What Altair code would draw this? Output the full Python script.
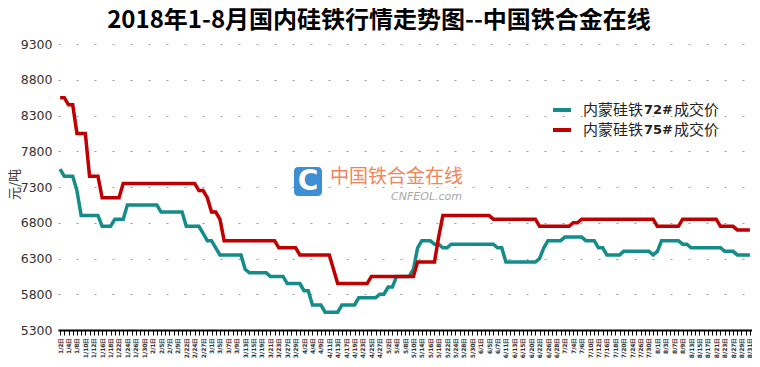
import json
import altair as alt
import pandas as pd

# Trading days, Jan-Aug 2018 (category axis)
dates = [
    "1/2", "1/3", "1/4", "1/5", "1/8", "1/9", "1/10", "1/11", "1/12", "1/15", "1/16",
    "1/17", "1/18", "1/19", "1/22", "1/23", "1/24", "1/25", "1/26", "1/29", "1/30", "1/31",
    "2/1", "2/2", "2/5", "2/6", "2/7", "2/8", "2/9", "2/12", "2/22", "2/23", "2/24",
    "2/26", "2/27", "2/28",
    "3/1", "3/2", "3/5", "3/6", "3/7", "3/8", "3/9", "3/12", "3/13", "3/14", "3/15",
    "3/16", "3/19", "3/20", "3/21", "3/22", "3/23", "3/26", "3/27", "3/28", "3/29", "3/30",
    "4/2", "4/3", "4/4", "4/8", "4/9", "4/10", "4/11", "4/12", "4/13", "4/16", "4/17",
    "4/18", "4/19", "4/20", "4/23", "4/24", "4/25", "4/26", "4/27", "4/28",
    "5/2", "5/3", "5/4", "5/7", "5/8", "5/9", "5/10", "5/11", "5/14", "5/15", "5/16",
    "5/17", "5/18", "5/21", "5/22", "5/23", "5/24", "5/25", "5/28", "5/29", "5/30", "5/31",
    "6/1", "6/4", "6/5", "6/6", "6/7", "6/8", "6/11", "6/12", "6/13", "6/14", "6/15",
    "6/19", "6/20", "6/21", "6/22", "6/25", "6/26", "6/27", "6/28", "6/29",
    "7/2", "7/3", "7/4", "7/5", "7/6", "7/9", "7/10", "7/11", "7/12", "7/13", "7/16",
    "7/17", "7/18", "7/19", "7/20", "7/23", "7/24", "7/25", "7/26", "7/27", "7/30", "7/31",
    "8/1", "8/2", "8/3", "8/6", "8/7", "8/8", "8/9", "8/10", "8/13", "8/14", "8/15",
    "8/16", "8/17", "8/20", "8/21", "8/22", "8/23", "8/24", "8/27", "8/28", "8/29", "8/30", "8/31",
]

# 内蒙硅铁72# (teal)
fesi72 = [
    7550, 7450, 7450, 7450, 7250, 6900, 6900, 6900, 6900, 6900, 6750,
    6750, 6750, 6850, 6850, 6850, 7050, 7050, 7050, 7050, 7050, 7050,
    7050, 7050, 6950, 6950, 6950, 6950, 6950, 6950, 6750, 6750, 6750,
    6750, 6650, 6550,
    6550, 6450, 6350, 6350, 6350, 6350, 6350, 6350, 6150, 6100, 6100,
    6100, 6100, 6100, 6050, 6050, 6050, 6050, 5950, 5950, 5950, 5950,
    5850, 5850, 5650, 5650, 5650, 5550, 5550, 5550, 5550, 5650, 5650,
    5650, 5650, 5750, 5750, 5750, 5750, 5750, 5800, 5800,
    5900, 5900, 6050, 6050, 6050, 6050, 6150, 6450, 6550, 6550, 6550,
    6500, 6500, 6450, 6450, 6500, 6500, 6500, 6500, 6500, 6500, 6500,
    6500, 6500, 6500, 6500, 6450, 6450, 6250, 6250, 6250, 6250, 6250,
    6250, 6250, 6250, 6300, 6450, 6550, 6550, 6550, 6550,
    6600, 6600, 6600, 6600, 6600, 6550, 6550, 6550, 6450, 6450, 6350,
    6350, 6350, 6350, 6400, 6400, 6400, 6400, 6400, 6400, 6400, 6350,
    6400, 6550, 6550, 6550, 6550, 6550, 6500, 6500, 6450, 6450, 6450,
    6450, 6450, 6450, 6450, 6450, 6400, 6400, 6400, 6350, 6350, 6350, 6350,
]

# 内蒙硅铁75# (red)
fesi75 = [
    8550, 8550, 8450, 8450, 8050, 8050, 8050, 7450, 7450, 7450, 7150,
    7150, 7150, 7150, 7150, 7350, 7350, 7350, 7350, 7350, 7350, 7350,
    7350, 7350, 7350, 7350, 7350, 7350, 7350, 7350, 7350, 7350, 7350,
    7250, 7250, 7150,
    6950, 6950, 6850, 6550, 6550, 6550, 6550, 6550, 6550, 6550, 6550,
    6550, 6550, 6550, 6550, 6550, 6450, 6450, 6450, 6450, 6450, 6350,
    6350, 6350, 6350, 6350, 6350, 6350, 6350, 6150, 5950, 5950, 5950,
    5950, 5950, 5950, 5950, 5950, 6050, 6050, 6050, 6050,
    6050, 6050, 6050, 6050, 6050, 6050, 6050, 6250, 6250, 6250, 6250,
    6250, 6600, 6900, 6900, 6900, 6900, 6900, 6900, 6900, 6900, 6900,
    6900, 6900, 6900, 6850, 6850, 6850, 6850, 6850, 6850, 6850, 6850,
    6850, 6850, 6850, 6750, 6750, 6750, 6750, 6750, 6750,
    6750, 6750, 6800, 6800, 6850, 6850, 6850, 6850, 6850, 6850, 6850,
    6850, 6850, 6850, 6850, 6850, 6850, 6850, 6850, 6850, 6850, 6850,
    6750, 6750, 6750, 6750, 6750, 6750, 6850, 6850, 6850, 6850, 6850,
    6850, 6850, 6850, 6850, 6750, 6750, 6750, 6750, 6700, 6700, 6700, 6700,
]

series_names = ["内蒙硅铁72#成交价", "内蒙硅铁75#成交价"]
series_colors = ["#138c8a", "#c00000"]
y_ticks = [5300, 5800, 6300, 6800, 7300, 7800, 8300, 8800, 9300]

rows = []
for d, a, b in zip(dates, fesi72, fesi75):
    rows.append({"date": d, "series": series_names[0], "price": a})
    rows.append({"date": d, "series": series_names[1], "price": b})
df = pd.DataFrame(rows)

label_expr = (
    "indexof(" + json.dumps(dates) + ", datum.value) % 2 == 0 ? datum.value + '日' : ''"
)

W, H = 694, 286
CJK = "Noto Sans CJK SC"

x_enc = alt.X(
    "date:N",
    sort=dates,
    scale=alt.Scale(type="point", padding=0.5),
    axis=alt.Axis(
        title=None,
        labelAngle=270,
        labelExpr=label_expr,
        labelFont="DejaVu Sans",
        labelFontSize=6,
        labelFontWeight="bold",
        labelColor="#333333",
        labelPadding=2,
        labelOverlap=False,
        tickColor="#000000",
        tickSize=5,
        tickWidth=1,
        domainColor="#000000",
        domainWidth=2,
        grid=False,
    ),
)
y_enc = alt.Y(
    "price:Q",
    scale=alt.Scale(domain=[5300, 9300], nice=False, zero=False),
    axis=alt.Axis(
        values=y_ticks,
        format="d",
        title="元/吨",
        grid=True,
        gridColor="#9a9a9a",
        gridDash=[2, 16],
        gridWidth=1,
        ticks=False,
        domain=False,
        labelFont="DejaVu Sans",
        labelFontSize=12.5,
        labelColor="#333333",
        labelPadding=6,
        titleFont=CJK,
        titleFontSize=13,
        titleFontWeight="normal",
        titleColor="#333333",
        titleX=-37,
        titleY=140,
        titleAngle=270,
        titleAlign="center",
        titleBaseline="bottom",
    ),
)

lines = alt.Chart(df).mark_line(strokeWidth=3.5).encode(
    x=x_enc,
    y=y_enc,
    color=alt.Color(
        "series:N",
        scale=alt.Scale(domain=series_names, range=series_colors),
        legend=None,
    ),
)

one = pd.DataFrame({"k": [0]})

# manual legend (mixed font weights)
legend_layers = []
for i, (name, col) in enumerate(zip(series_names, series_colors)):
    yy = 66 + i * 20
    legend_layers.append(
        alt.Chart(one).mark_rule(color=col, strokeWidth=4).encode(
            x=alt.value(495), x2=alt.value(513), y=alt.value(yy)
        )
    )
    legend_layers.append(
        alt.Chart(one).mark_text(
            text="内蒙硅铁", font=CJK, fontSize=15, align="left", baseline="middle", color="#222222"
        ).encode(x=alt.value(525), y=alt.value(yy))
    )
    legend_layers.append(
        alt.Chart(one).mark_text(
            text=name[4:7], font="DejaVu Sans", fontSize=13, fontWeight="bold",
            align="left", baseline="middle", color="#222222"
        ).encode(x=alt.value(586), y=alt.value(yy))
    )
    legend_layers.append(
        alt.Chart(one).mark_text(
            text="成交价", font=CJK, fontSize=15, align="left", baseline="middle", color="#222222"
        ).encode(x=alt.value(616), y=alt.value(yy))
    )

# watermark logo
logo_box = alt.Chart(one).mark_rect(color="#3d8fd3", cornerRadius=4).encode(
    x=alt.value(236), x2=alt.value(264), y=alt.value(123), y2=alt.value(152)
)
logo_c = alt.Chart(one).mark_text(
    text="C", font="DejaVu Sans", fontSize=28, fontWeight="bold", color="white",
    align="center", baseline="middle"
).encode(x=alt.value(250), y=alt.value(138))
logo_txt = alt.Chart(one).mark_text(
    text="中国铁合金在线", font=CJK, fontSize=19, color="#f0845a",
    align="left", baseline="middle"
).encode(x=alt.value(272), y=alt.value(133))
logo_sub = alt.Chart(one).mark_text(
    text="CNFEOL.com", font="DejaVu Sans", fontSize=11, fontStyle="italic",
    color="#a8a8a8", align="right", baseline="middle"
).encode(x=alt.value(404), y=alt.value(153))

chart = alt.layer(
    logo_box, logo_c, logo_txt, logo_sub, lines, *legend_layers
).properties(
    width=W,
    height=H,
    title=alt.Title(
        "2018年1-8月国内硅铁行情走势图--中国铁合金在线",
        font=CJK,
        fontSize=24,
        fontWeight="bold",
        color="#000000",
        anchor="middle",
        offset=5,
        dx=-26,
    ),
    padding={"left": 50, "top": 36, "right": 0, "bottom": 37},
    autosize="none",
).configure_view(stroke=None)

chart.save("out.html", embed_options={"renderer": "svg", "actions": False})
